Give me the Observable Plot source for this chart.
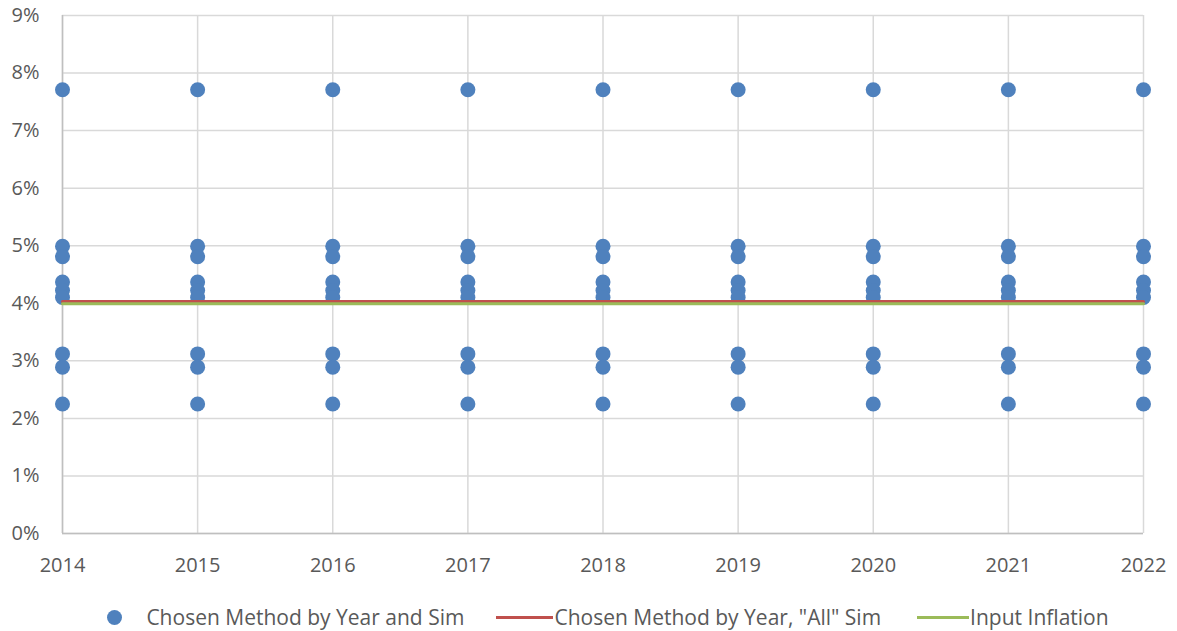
<!DOCTYPE html>
<html>
<head>
<meta charset="utf-8">
<script src="https://cdn.jsdelivr.net/npm/d3@7"></script>
<script src="https://cdn.jsdelivr.net/npm/@observablehq/plot@0.6"></script>
<style>
  body { margin: 0; background: #fff; font-family: "Open Sans", "Noto Sans", sans-serif; }
  #chart { width: 1177px; }
  .legend { display: flex; justify-content: center; align-items: center; font-size: 21px; color: #595959; margin-top: 18px; padding-left: 39px; }
  .item { display: flex; align-items: center; }
  .sw-dot { width: 15px; height: 15px; border-radius: 50%; background: #4f81bd; margin-right: 24px; }
  .sw-line { width: 57px; height: 3px; margin-right: 1px; }
</style>
</head>
<body>
<div id="chart"></div>
<script>
const years = [2014, 2015, 2016, 2017, 2018, 2019, 2020, 2021, 2022];
const simValues = [0.0771, 0.0499, 0.0481, 0.0437, 0.0422, 0.0410, 0.0312, 0.0289, 0.0225];
const allSimValue = 0.0403;
const inputInflation = 0.0399;
const yTicks = [0, 0.01, 0.02, 0.03, 0.04, 0.05, 0.06, 0.07, 0.08, 0.09];
const seriesNames = ["Chosen Method by Year and Sim", "Chosen Method by Year, \"All\" Sim", "Input Inflation"];
const seriesColors = ["#4f81bd", "#c0504d", "#9bbb59"];

const dots = years.flatMap(y => simValues.map(v => ({year: y, value: v})));
const allLine = years.map(y => ({year: y, value: allSimValue}));
const inflLine = years.map(y => ({year: y, value: inputInflation}));

const plot = Plot.plot({
  width: 1177,
  height: 585,
  marginTop: 15,
  marginLeft: 62,
  marginRight: 34,
  marginBottom: 52,
  style: {fontSize: "20px", fontFamily: "'Open Sans', 'Noto Sans', sans-serif", color: "#595959", background: "#fff"},
  x: {domain: [2014, 2022], ticks: years, tickFormat: d3.format("d")},
  y: {domain: [0, 0.09], ticks: yTicks, tickFormat: d3.format(".0%")},
  marks: [
    Plot.gridY(yTicks, {stroke: "#d9d9d9", strokeOpacity: 1, strokeWidth: 1.5}),
    Plot.gridX(years, {stroke: "#d9d9d9", strokeOpacity: 1, strokeWidth: 1.5}),
    Plot.ruleX([2014], {stroke: "#bfbfbf", strokeWidth: 1.5}),
    Plot.ruleY([0], {stroke: "#bfbfbf", strokeWidth: 1.5}),
    Plot.axisY({ticks: yTicks, tickFormat: d3.format(".0%"), tickSize: 0, tickPadding: 23, label: null, fill: "#595959"}),
    Plot.axisX({ticks: years, tickFormat: d3.format("d"), tickSize: 0, tickPadding: 24, label: null, fill: "#595959"}),
    Plot.dot(dots, {x: "year", y: "value", r: 7.5, fill: seriesColors[0], stroke: "none"}),
    Plot.lineY(allLine, {x: "year", y: "value", stroke: seriesColors[1], strokeWidth: 3}),
    Plot.lineY(inflLine, {x: "year", y: "value", stroke: seriesColors[2], strokeWidth: 3})
  ]
});
document.getElementById("chart").appendChild(plot);

const legend = document.createElement("div");
legend.className = "legend";
seriesNames.forEach((name, i) => {
  const item = document.createElement("div");
  item.className = "item";
  item.style.marginRight = i === 0 ? "32px" : (i === 1 ? "36px" : "0");
  const sw = document.createElement("div");
  if (i === 0) { sw.className = "sw-dot"; }
  else { sw.className = "sw-line"; sw.style.background = seriesColors[i]; if (i === 2) sw.style.width = "52px"; }
  item.appendChild(sw);
  const t = document.createElement("span");
  t.textContent = name;
  item.appendChild(t);
  legend.appendChild(item);
});
document.getElementById("chart").appendChild(legend);
</script>
</body>
</html>
